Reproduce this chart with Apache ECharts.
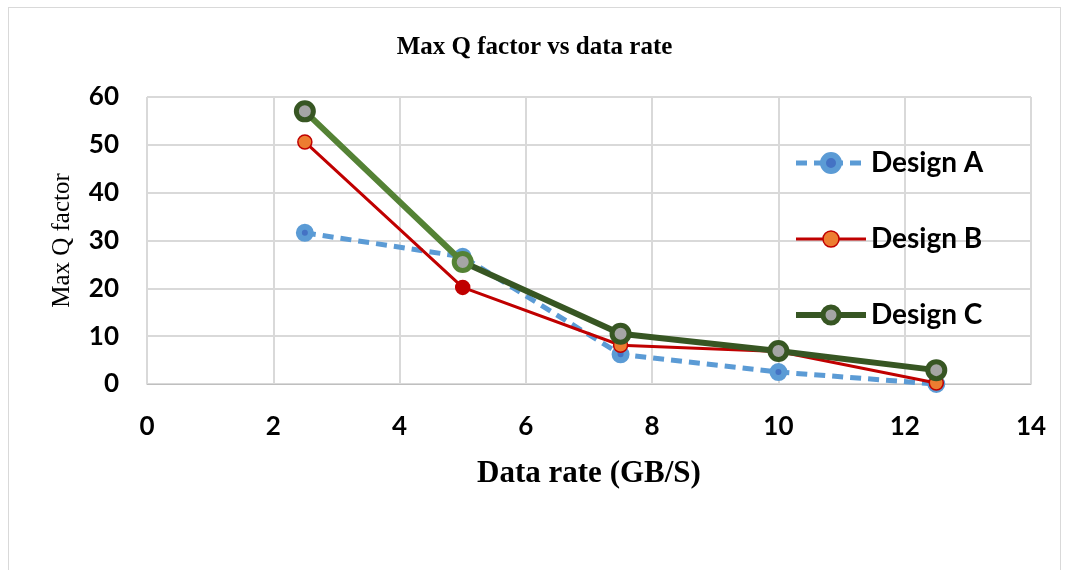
<!DOCTYPE html>
<html>
<head>
<meta charset="utf-8">
<script src="https://cdn.jsdelivr.net/npm/echarts@6/dist/echarts.min.js"></script>
<style>
  html, body { margin: 0; padding: 0; background: #fff; }
  #frame { position: absolute; left: 8px; top: 7px; width: 1053px; height: 580px; border: 1px solid #d9d9d9; box-sizing: border-box; }
  #chart { position: absolute; left: 0; top: 0; width: 1069px; height: 570px; }
</style>
</head>
<body>
<div id="frame"></div>
<div id="chart"></div>
<script>
// Data rate (GB/S) and maximum Q factor for each design
const dataRate = [2.5, 5, 7.5, 10, 12.5];
const designA = [31.6, 26.6, 6.2, 2.5, 0.0];
const designB = [50.6, 20.2, 8.1, 6.8, 0.2];
const designC = [57.0, 25.5, 10.5, 6.9, 2.9];
const seriesNames = ['Design A', 'Design B', 'Design C'];
const xTicks = { min: 0, max: 14, interval: 2 };
const yTicks = { min: 0, max: 60, interval: 10 };

const pairs = vals => dataRate.map((x, i) => [x, vals[i]]);

const styleA = {
  line: { color: '#5B9BD5', width: 5, type: [11, 7] },
  item: { color: '#4472C4', borderColor: '#5B9BD5', borderWidth: 6 }
};
const styleB = {
  line: { color: '#C00000', width: 3 },
  item: { color: '#ED7D31', borderColor: '#C00000', borderWidth: 1.5 }
};
const styleC = {
  line: { color: '#375623', width: 6 },
  item: { color: '#A5A5A5', borderColor: '#375623', borderWidth: 5 }
};

const chart = echarts.init(document.getElementById('chart'));
chart.setOption({
  animation: false,
  title: {
    text: 'Max Q factor vs data rate',
    left: 'center', top: 30,
    textStyle: { fontFamily: 'Liberation Serif', fontWeight: 'bold', fontSize: 25, color: '#000' }
  },
  grid: { left: 147, right: 38, top: 97, bottom: 186 },
  legend: {
    orient: 'vertical',
    left: 788, top: 144,
    itemGap: 48,
    itemWidth: 70, itemHeight: 20,
    textStyle: { fontFamily: 'Lato', fontWeight: 'bold', fontSize: 28, color: '#000' },
    data: [
      { name: seriesNames[0], lineStyle: styleA.line, itemStyle: styleA.item },
      { name: seriesNames[1], lineStyle: styleB.line, itemStyle: styleB.item },
      { name: seriesNames[2], lineStyle: styleC.line, itemStyle: styleC.item }
    ]
  },
  xAxis: {
    type: 'value',
    min: xTicks.min, max: xTicks.max, interval: xTicks.interval,
    name: 'Data rate (GB/S)',
    nameLocation: 'middle', nameGap: 74,
    nameTextStyle: { fontFamily: 'Liberation Serif', fontWeight: 'bold', fontSize: 31, color: '#000' },
    axisLine: { show: true, lineStyle: { color: '#bfbfbf', width: 1 } },
    axisTick: { show: false },
    splitLine: { show: true, lineStyle: { color: '#d9d9d9', width: 2 } },
    axisLabel: { fontFamily: 'Lato', fontWeight: 'bold', fontSize: 26, color: '#000', margin: 30 }
  },
  yAxis: {
    type: 'value',
    min: yTicks.min, max: yTicks.max, interval: yTicks.interval,
    name: 'Max Q factor',
    nameLocation: 'middle', nameGap: 72,
    nameTextStyle: { fontFamily: 'Liberation Serif', fontSize: 25, color: '#000' },
    axisLine: { show: false },
    axisTick: { show: false },
    splitLine: { show: true, lineStyle: { color: '#d9d9d9', width: 2 } },
    axisLabel: { fontFamily: 'Lato', fontWeight: 'bold', fontSize: 26, color: '#000', margin: 28 }
  },
  series: [
    {
      name: seriesNames[0], type: 'line', data: pairs(designA),
      symbol: 'circle', symbolSize: 12,
      lineStyle: styleA.line,
      itemStyle: styleA.item,
      z: 2
    },
    {
      name: seriesNames[1], type: 'line',
      data: pairs(designB).map((p, i) => i === 1
        ? { value: p, itemStyle: { color: '#C00000', borderColor: '#C00000' } }
        : p),
      symbol: 'circle', symbolSize: 14,
      lineStyle: styleB.line,
      itemStyle: styleB.item,
      z: 3
    },
    {
      name: seriesNames[2], type: 'line',
      data: pairs(designC).map((p, i) => i === 1
        ? { value: p, itemStyle: { borderColor: '#548235' } }
        : p),
      symbol: 'circle', symbolSize: 17,
      lineStyle: {
        width: styleC.line.width,
        color: new echarts.graphic.LinearGradient(0, 0, 1, 0, [
          { offset: 0, color: '#548235' },
          { offset: 0.25, color: '#548235' },
          { offset: 0.25, color: '#375623' },
          { offset: 1, color: '#375623' }
        ])
      },
      itemStyle: styleC.item,
      z: 4
    }
  ]
});
</script>
</body>
</html>
